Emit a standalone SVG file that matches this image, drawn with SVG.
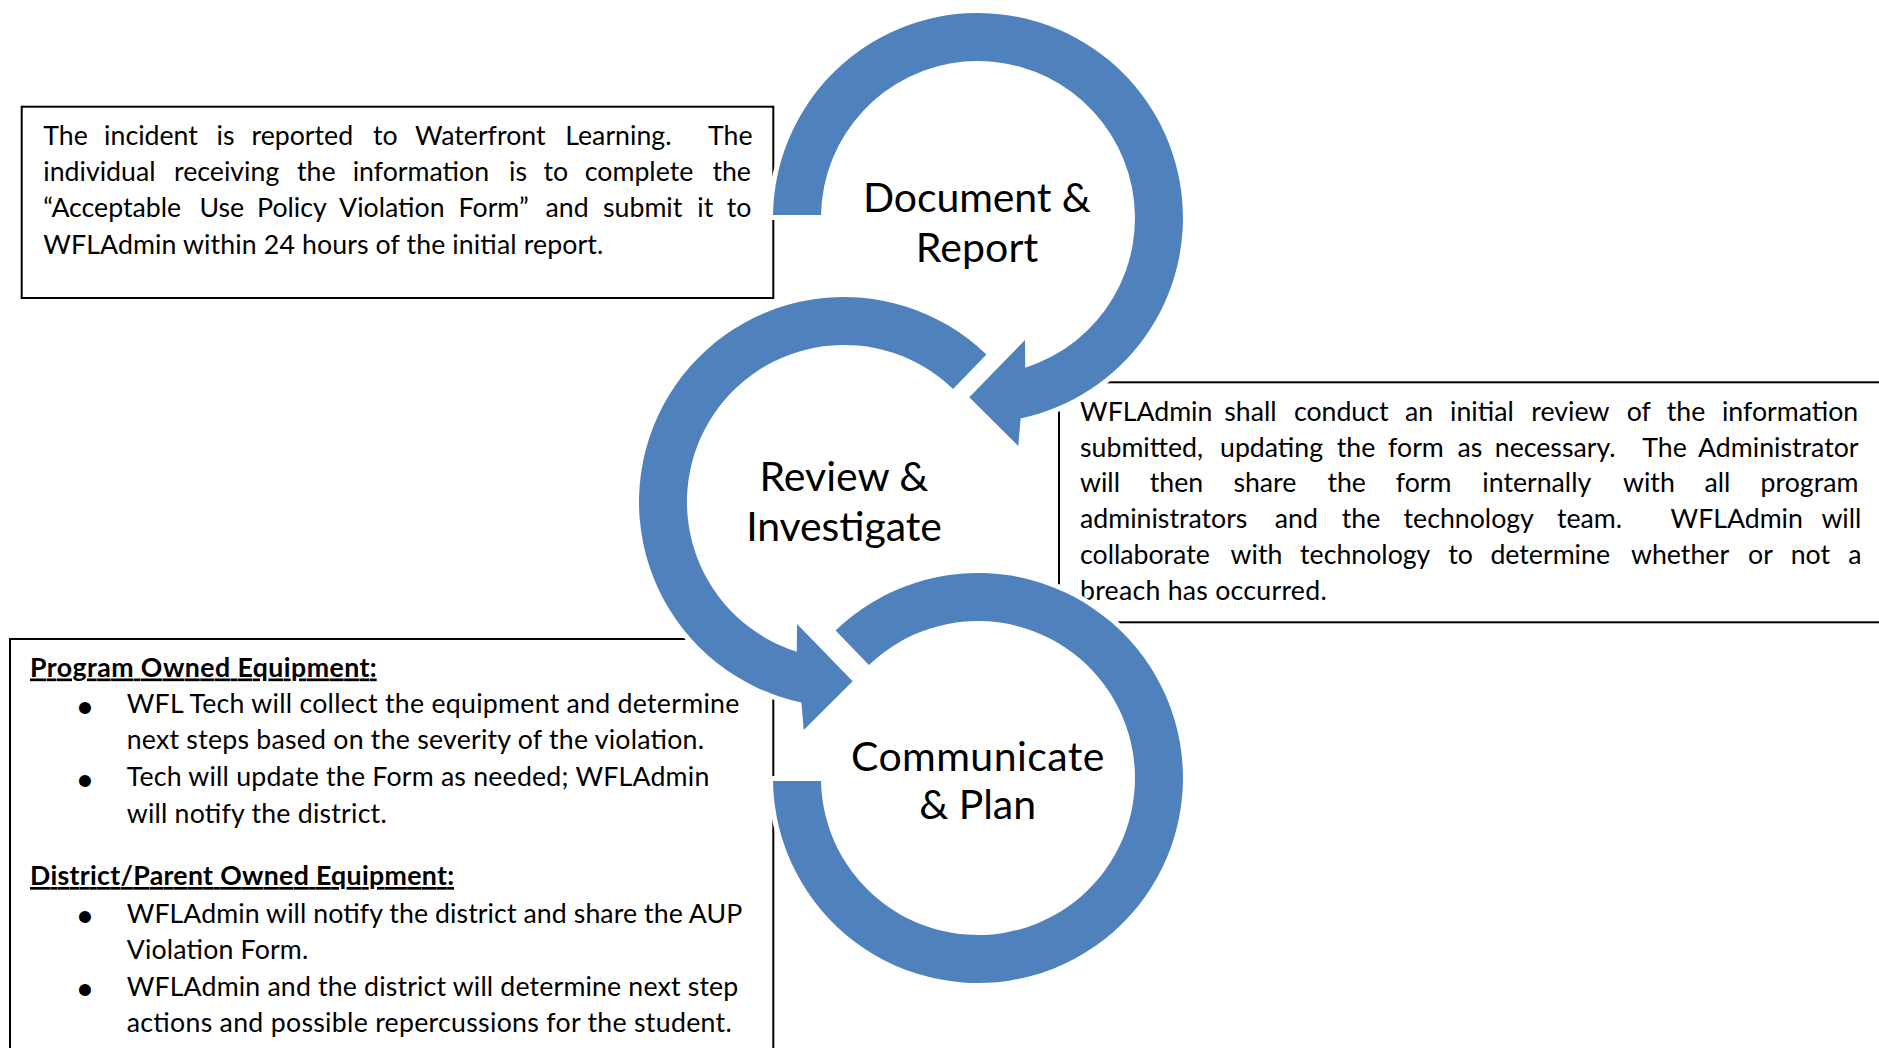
<svg xmlns="http://www.w3.org/2000/svg" width="1879" height="1048" viewBox="0 0 1879 1048">
  <defs>
    <style>
      .box { fill: #ffffff; stroke: #000000; stroke-width: 2; }
      .ring { fill: #4f81bd; stroke: #ffffff; stroke-width: 10; stroke-linejoin: round; paint-order: stroke; }
      .body { font-family: Lato, "Liberation Sans", sans-serif; font-size: 26.7px; fill: #000000; }
      .head { font-weight: 700; text-decoration: underline; }
      .bullet { font-family: "Liberation Sans", sans-serif; font-size: 44px; fill: #000000; }
      .label { font-family: Lato, "Liberation Sans", sans-serif; font-size: 41px; fill: #000000; text-anchor: middle; }
    </style>
  </defs>

  <rect width="1879" height="1048" fill="#ffffff"/>

  <!-- Step 1 note -->
  <g id="note-document-report">
    <rect class="box" x="21.7" y="106.7" width="751.6" height="191.3"/>
    <text class="body" y="145"><tspan x="43.3">The</tspan> <tspan x="104.1">incident</tspan> <tspan x="216.5">is</tspan> <tspan x="251.5">reported</tspan> <tspan x="373.1">to</tspan> <tspan x="415.1">Waterfront</tspan> <tspan x="565.3">Learning.</tspan> <tspan x="708">The</tspan></text>
    <text class="body" y="181.2"><tspan x="43.3">individual</tspan> <tspan x="174.1">receiving</tspan> <tspan x="297">the</tspan> <tspan x="352.7">information</tspan> <tspan x="509.1">is</tspan> <tspan x="543.5">to</tspan> <tspan x="584.8">complete</tspan> <tspan x="712.4">the</tspan></text>
    <text class="body" y="217.4"><tspan x="43.3">“Acceptable</tspan> <tspan x="199.4">Use</tspan> <tspan x="257.1">Policy</tspan> <tspan x="339.1">Violation</tspan> <tspan x="458.6">Form”</tspan> <tspan x="545.6">and</tspan> <tspan x="603">submit</tspan> <tspan x="697.3">it</tspan> <tspan x="726.7">to</tspan></text>
    <text class="body" x="43.3" y="253.5" textLength="560" lengthAdjust="spacing">WFLAdmin within 24 hours of the initial report.</text>
  </g>

  <!-- Step 2 note (runs past the right edge) -->
  <g id="note-review-investigate">
    <rect class="box" x="1059" y="382.3" width="840" height="240"/>
    <text class="body" y="420.7"><tspan x="1080">WFLAdmin</tspan> <tspan x="1224.2">shall</tspan> <tspan x="1293.9">conduct</tspan> <tspan x="1405">an</tspan> <tspan x="1450">initial</tspan> <tspan x="1531.3">review</tspan> <tspan x="1626.7">of</tspan> <tspan x="1666.7">the</tspan> <tspan x="1721.9">information</tspan></text>
    <text class="body" y="456.5"><tspan x="1080">submitted,</tspan> <tspan x="1220">updating</tspan> <tspan x="1336.8">the</tspan> <tspan x="1388.1">form</tspan> <tspan x="1457.6">as</tspan> <tspan x="1494.8">necessary.</tspan> <tspan x="1642.3">The</tspan> <tspan x="1698.1">Administrator</tspan></text>
    <text class="body" y="492.3"><tspan x="1080">will</tspan> <tspan x="1149.7">then</tspan> <tspan x="1233.4">share</tspan> <tspan x="1327.4">the</tspan> <tspan x="1395.8">form</tspan> <tspan x="1482.3">internally</tspan> <tspan x="1623">with</tspan> <tspan x="1704.4">all</tspan> <tspan x="1760.6">program</tspan></text>
    <text class="body" y="528.1"><tspan x="1080">administrators</tspan> <tspan x="1274.8">and</tspan> <tspan x="1341.7">the</tspan> <tspan x="1403.6">technology</tspan> <tspan x="1557">team.</tspan> <tspan x="1670.5">WFLAdmin</tspan> <tspan x="1821.4">will</tspan></text>
    <text class="body" y="563.9"><tspan x="1080">collaborate</tspan> <tspan x="1230.6">with</tspan> <tspan x="1300.1">technology</tspan> <tspan x="1448.2">to</tspan> <tspan x="1490.4">determine</tspan> <tspan x="1631">whether</tspan> <tspan x="1748.1">or</tspan> <tspan x="1790.7">not</tspan> <tspan x="1848.2">a</tspan></text>
    <text class="body" x="1080" y="599.7" textLength="246.7" lengthAdjust="spacing">breach has occurred.</text>
  </g>

  <!-- Step 3 note (runs past the bottom edge) -->
  <g id="note-communicate-plan">
    <rect class="box" x="10" y="639" width="763.3" height="430"/>
    <text class="body head" x="30" y="676.5" textLength="346.7" lengthAdjust="spacing">Program Owned Equipment:</text>
    <text class="bullet" x="77.3" y="722.5">•</text>
    <text class="body" x="126.7" y="713" textLength="612.6" lengthAdjust="spacing">WFL Tech will collect the equipment and determine</text>
    <text class="body" x="126.7" y="749" textLength="577.3" lengthAdjust="spacing">next steps based on the severity of the violation.</text>
    <text class="bullet" x="77.3" y="795.5">•</text>
    <text class="body" x="126.7" y="786" textLength="582.6" lengthAdjust="spacing">Tech will update the Form as needed; WFLAdmin</text>
    <text class="body" x="126.7" y="822.5" textLength="260" lengthAdjust="spacing">will notify the district.</text>
    <text class="body head" x="30" y="885" textLength="424" lengthAdjust="spacing">District/Parent Owned Equipment:</text>
    <text class="bullet" x="77.3" y="932">•</text>
    <text class="body" x="126.7" y="922.5" textLength="615.6" lengthAdjust="spacing">WFLAdmin will notify the district and share the AUP</text>
    <text class="body" x="126.7" y="958.5" textLength="181.6" lengthAdjust="spacing">Violation Form.</text>
    <text class="bullet" x="77.3" y="1005">•</text>
    <text class="body" x="126.7" y="995.5" textLength="611.6" lengthAdjust="spacing">WFLAdmin and the district will determine next step</text>
    <text class="body" x="126.7" y="1031.5" textLength="605" lengthAdjust="spacing">actions and possible repercussions for the student.</text>
  </g>

  <!-- Cycle arrows: each ring flows into the next step -->
  <g id="connectors">
    <path id="arrow-document-to-review" class="ring"
          d="M773 215 A205 205 0 1 1 1020.6 418.5 L1018.3 446 L969.3 397.3 L1025 340 L1025.2 367.7 A157 157 0 1 0 821 215 Z"/>
    <path id="arrow-review-to-communicate" class="ring"
          d="M986.4 354.5 A205 205 0 1 0 801.4 702.5 L803.7 730 L852.7 681.3 L797 624 L796.8 651.7 A157 157 0 1 1 953.1 389.1 Z"/>
    <path id="ring-communicate" class="ring"
          d="M835.6 630.5 A205 205 0 1 1 773 781 L821 781 A157 157 0 1 0 868.9 665.1 Z"/>
  </g>

  <!-- Step labels -->
  <g id="node-document-report">
    <text class="label" x="977" y="211.7" textLength="228" lengthAdjust="spacing">Document &amp;</text>
    <text class="label" x="977" y="261.7" textLength="122.3" lengthAdjust="spacing">Report</text>
  </g>
  <g id="node-review-investigate">
    <text class="label" x="844" y="490.7" textLength="169" lengthAdjust="spacing">Review &amp;</text>
    <text class="label" x="844" y="540.7" textLength="195.7" lengthAdjust="spacing">Investigate</text>
  </g>
  <g id="node-communicate-plan">
    <text class="label" x="977.7" y="770.7" textLength="253.3" lengthAdjust="spacing">Communicate</text>
    <text class="label" x="977.7" y="819.3" textLength="116.7" lengthAdjust="spacing">&amp; Plan</text>
  </g>
</svg>
